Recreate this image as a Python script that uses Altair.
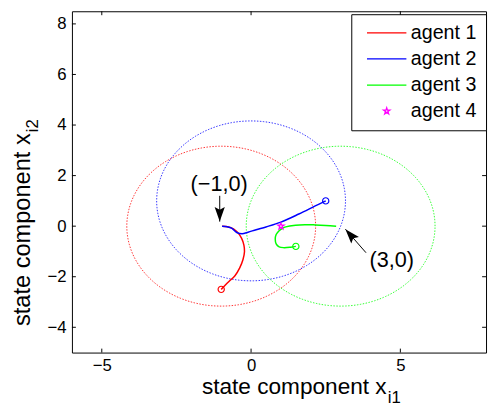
import altair as alt
import numpy as np
import pandas as pd

agents = ["agent 1", "agent 2", "agent 3", "agent 4"]
colors = ["#ff0000", "#0000ff", "#00ff00", "#ff00ff"]

agent1_x = [-1.0, -0.75, -0.54, -0.38, -0.27, -0.22, -0.24, -0.32, -0.48, -0.7, -0.85, -0.97]
agent1_y = [-2.5, -2.2, -1.96, -1.65, -1.32, -1.0, -0.75, -0.47, -0.21, -0.05, -0.01, 0.0]
agent2_x = [2.5, 2.15, 1.6, 1.0, 0.5, 0.17, -0.1, -0.3, -0.48, -0.65, -0.8, -0.97]
agent2_y = [1.0, 0.8, 0.48, 0.16, -0.03, -0.14, -0.24, -0.3, -0.25, -0.08, -0.02, 0.0]
agent3_x = [1.5, 1.33, 1.1, 0.94, 0.84, 0.81, 0.84, 0.94, 1.05, 1.16, 1.49, 1.8, 2.15, 2.5, 2.85]
agent3_y = [-0.8, -0.83, -0.85, -0.82, -0.7, -0.52, -0.33, -0.18, -0.09, -0.03, 0.04, 0.06, 0.05, 0.03, 0.0]
agent4_x = [1.0]
agent4_y = [0.0]

circle_cx = [-1.0, 0.0, 3.0]
circle_cy = [0.0, 1.0, 0.0]
circle_r = [float(np.sqrt(10))] * 3

x_ticks = [-5, 0, 5]
y_ticks = [-4, -2, 0, 2, 4, 6, 8]
x_domain = [-6, 7.87]
y_domain = [-5, 8.5]

ann_labels = ["(\u22121,0)", "(3,0)"]
ann_text_x = [-1.07, 4.71]
ann_text_y = [1.66, -1.35]
ann_tail_x = [-1.05, 3.85]
ann_tail_y = [1.2, -1.05]
ann_tip_x = [-1.05, 3.16]
ann_tip_y = [0.18, -0.12]

W, H = 421, 347
FONT = "Liberation Sans"

rows = []
for name, xs_, ys_ in [(agents[0], agent1_x, agent1_y), (agents[1], agent2_x, agent2_y), (agents[2], agent3_x, agent3_y)]:
    for i, (a, b) in enumerate(zip(xs_, ys_)):
        rows.append({"agent": name, "x": float(a), "y": float(b), "i": i})
traj = pd.DataFrame(rows)
starts = traj[traj["i"] == 0].reset_index(drop=True)

crow = []
theta = np.linspace(0, 2 * np.pi, 241)
for k in range(3):
    for i, t in enumerate(theta):
        crow.append({"agent": agents[k], "x": float(circle_cx[k] + circle_r[k] * np.cos(t)),
                     "y": float(circle_cy[k] + circle_r[k] * np.sin(t)), "i": i})
circ = pd.DataFrame(crow)

star_df = pd.DataFrame({"agent": [agents[3]], "x": agent4_x, "y": agent4_y})

# five-pointed star marker as an SVG path (unit radius)
pts = []
for j in range(10):
    r = 1.0 if j % 2 == 0 else 0.382
    a = np.radians(-90 + 36 * j)
    pts.append(f"{r * np.cos(a):.3f},{r * np.sin(a):.3f}")
STAR = "M" + "L".join(pts) + "Z"
LINE_SYM = "M-5.97,0L5.97,0"

ppx = W / (x_domain[1] - x_domain[0])
ppy = H / (y_domain[1] - y_domain[0])
angles = []
for tx, ty, hx, hy in zip(ann_tail_x, ann_tail_y, ann_tip_x, ann_tip_y):
    dx = (hx - tx) * ppx
    dy = -(hy - ty) * ppy
    angles.append(float(np.degrees(np.arctan2(dx, -dy)) % 360))
ann = pd.DataFrame({"label": ann_labels, "tx": ann_text_x, "ty": ann_text_y,
                    "ax": ann_tail_x, "ay": ann_tail_y, "bx": ann_tip_x, "by": ann_tip_y,
                    "ang": angles})

xs = alt.Scale(domain=x_domain, nice=False, zero=False)
ys = alt.Scale(domain=y_domain, nice=False, zero=False)
# trajectories / circles only involve agents 1-3
stroke_scale = alt.Scale(domain=agents[:3], range=colors[:3])

ax_x = alt.Axis(values=x_ticks, title=None, grid=False, domain=False, tickSize=0,
                labelFontSize=17, labelFont=FONT, labelColor="black", labelPadding=5)
ax_y = alt.Axis(values=y_ticks, title=None, grid=False, domain=False, tickSize=0,
                labelFontSize=17, labelFont=FONT, labelColor="black", labelPadding=6)

def XX(f):
    return alt.X(f, scale=xs, axis=ax_x)

def YY(f):
    return alt.Y(f, scale=ys, axis=ax_y)

title_df = pd.DataFrame({"main": ["state component x"], "sx": ["i1"], "sy": ["i2"]})
xt_main = alt.Chart(title_df).mark_text(fontSize=23, font=FONT, color="black", align="right",
                                        baseline="alphabetic").encode(
    x=alt.value(320), y=alt.value(389), text="main:N")
xt_sub = alt.Chart(title_df).mark_text(fontSize=17, font=FONT, color="black", align="left",
                                       baseline="alphabetic").encode(
    x=alt.value(321), y=alt.value(398), text="sx:N")
yt_main = alt.Chart(title_df).mark_text(fontSize=24, font=FONT, color="black", align="right",
                                        baseline="alphabetic", angle=270).encode(
    x=alt.value(-43), y=alt.value(124), text="main:N")
yt_sub = alt.Chart(title_df).mark_text(fontSize=17, font=FONT, color="black", align="left",
                                       baseline="alphabetic", angle=270).encode(
    x=alt.value(-35), y=alt.value(123), text="sy:N")

tick_x = pd.DataFrame({"x": x_ticks})
tick_y = pd.DataFrame({"y": y_ticks})
tb = alt.Chart(tick_x).mark_rule(color="black", strokeWidth=1).encode(
    x=XX("x:Q"), y=alt.value(H), y2=alt.value(H - 4))
tt = alt.Chart(tick_x).mark_rule(color="black", strokeWidth=1).encode(
    x=XX("x:Q"), y=alt.value(0), y2=alt.value(4))
tl = alt.Chart(tick_y).mark_rule(color="black", strokeWidth=1).encode(
    y=YY("y:Q"), x=alt.value(0), x2=alt.value(4))
tr = alt.Chart(tick_y).mark_rule(color="black", strokeWidth=1).encode(
    y=YY("y:Q"), x=alt.value(W), x2=alt.value(W - 4))

shafts = alt.Chart(ann).mark_rule(color="black", strokeWidth=1).encode(
    x=XX("ax:Q"), y=YY("ay:Q"), x2="bx:Q", y2="by:Q")
labels = alt.Chart(ann).mark_text(fontSize=22, font=FONT, color="black", align="center",
                                  baseline="middle").encode(x=XX("tx:Q"), y=YY("ty:Q"), text="label:N")
heads = alt.Chart(ann).mark_point(shape="M0,0L0.45,1.3L0,1.05L-0.45,1.3Z", filled=True,
                                   color="black", size=529, opacity=1).encode(
    x=XX("bx:Q"), y=YY("by:Q"), angle=alt.Angle("ang:Q", scale=None))

circles = alt.Chart(circ).mark_line(strokeWidth=1, strokeDash=[1.5, 1.5], opacity=0.8).encode(
    x=XX("x:Q"), y=YY("y:Q"), order="i:Q",
    stroke=alt.Stroke("agent:N", scale=stroke_scale, legend=None))

lines = alt.Chart(traj).mark_line(strokeWidth=1.5, interpolate="catmull-rom").encode(
    x=XX("x:Q"), y=YY("y:Q"), order="i:Q",
    stroke=alt.Stroke("agent:N", scale=stroke_scale, legend=None))

start_pts = alt.Chart(starts).mark_point(filled=False, size=40, strokeWidth=1.2, opacity=1).encode(
    x=XX("x:Q"), y=YY("y:Q"),
    stroke=alt.Stroke("agent:N", scale=stroke_scale, legend=None))

SYM = 45
leg = alt.Legend(title=None, orient="none", legendX=284, legendY=3, padding=9,
                 strokeColor="black", fillColor="white", labelFontSize=20, labelFont=FONT,
                 labelColor="black", rowPadding=6.5, symbolOffset=17, labelOffset=14.5,
                 symbolStrokeWidth=1.3, symbolSize=SYM, cornerRadius=0)

star = alt.Chart(star_df).mark_point(filled=False, strokeWidth=1.2, opacity=1, size=SYM).encode(
    x=XX("x:Q"), y=YY("y:Q"),
    color=alt.Color("agent:N", scale=alt.Scale(domain=agents, range=colors), legend=leg),
    shape=alt.Shape("agent:N", scale=alt.Scale(domain=agents, range=[LINE_SYM, LINE_SYM, LINE_SYM, STAR]), legend=leg),
)

chart = alt.layer(circles, lines, start_pts, star, shafts, heads, labels, tb, tt, tl, tr,
                  xt_main, xt_sub, yt_main, yt_sub).properties(
    width=W, height=H,
    background="white",
    autosize=alt.AutoSizeParams(type="none"),
    padding={"left": 65, "top": 0, "right": 2, "bottom": 51},
).configure_view(stroke="black", strokeWidth=1)

chart.save("out.html", embed_options={"renderer": "svg", "actions": False})
